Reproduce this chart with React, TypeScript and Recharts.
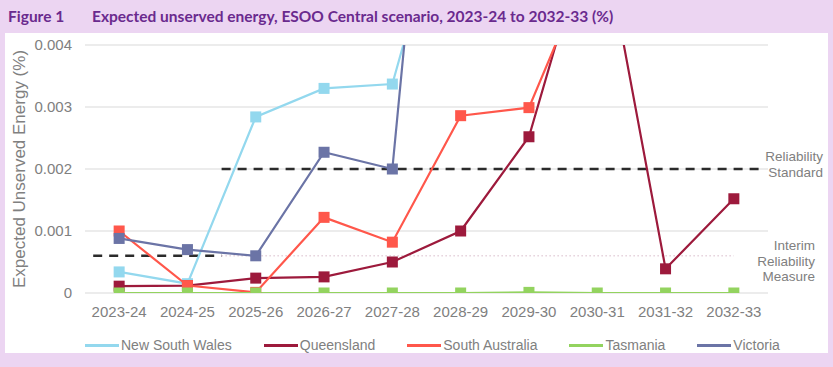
import {
  CartesianGrid,
  Legend,
  Line,
  LineChart,
  ReferenceLine,
  XAxis,
  YAxis,
} from "recharts";

const years = [
  "2023-24",
  "2024-25",
  "2025-26",
  "2026-27",
  "2027-28",
  "2028-29",
  "2029-30",
  "2030-31",
  "2031-32",
  "2032-33",
];

// values beyond 0.004 run off the top of the chart in the original
const newSouthWales = [0.00034, 0.00015, 0.00284, 0.0033, 0.00337, 0.0073, 0.0078, 0.0081, 0.0076, 0.0072];
const queensland = [0.00011, 0.00012, 0.00024, 0.00026, 0.0005, 0.001, 0.00252, 0.0063, 0.00039, 0.00152];
const southAustralia = [0.001, 0.00012, 0.00001, 0.00122, 0.00082, 0.00286, 0.00299, 0.0056, 0.0061, 0.0058];
const tasmania = [0, 0, 0, 0, 0, 0, 0.00001, 0, 0, 0];
const victoria = [0.00088, 0.0007, 0.0006, 0.00227, 0.002, 0.0135, 0.014, 0.0128, 0.0122, 0.0117];

const yTicks = [0, 0.001, 0.002, 0.003, 0.004];

const reliabilityStandard = 0.002;
const interimMeasure = 0.0006;

const series = [
  { key: "nsw", name: "New South Wales", color: "#93d8ee", values: newSouthWales },
  { key: "qld", name: "Queensland", color: "#9d1a3c", values: queensland },
  { key: "sa", name: "South Australia", color: "#ff574b", values: southAustralia },
  { key: "tas", name: "Tasmania", color: "#93d35f", values: tasmania },
  { key: "vic", name: "Victoria", color: "#6b74a6", values: victoria },
];

const data = years.map((year, i) => {
  const row: Record<string, number | string> = { x: i, year };
  series.forEach((s) => {
    row[s.key] = s.values[i];
  });
  return row;
});

const font = "'Liberation Sans', Arial, sans-serif";
const grey = "#808080";

const squareDot = (color: string, size: number) => (props: any) => {
  const { cx, cy, index } = props;
  if (cx == null || cy == null) return <g key={index} />;
  return (
    <rect
      key={index}
      x={cx - size / 2}
      y={cy - size / 2}
      width={size}
      height={size}
      fill={color}
    />
  );
};

const renderLegend = (props: any) => {
  const { payload } = props;
  return (
    <div
      style={{
        display: "flex",
        gap: 32,
        paddingLeft: 80,
        fontFamily: font,
        fontSize: 14,
        color: grey,
        lineHeight: "18px",
      }}
    >
      {payload.map((p: any) => (
        <span key={p.value} style={{ display: "flex", alignItems: "center" }}>
          <span
            style={{
              display: "inline-block",
              width: 34,
              height: 3,
              background: p.color,
              marginRight: 2,
            }}
          />
          {p.value}
        </span>
      ))}
    </div>
  );
};

export default function App() {
  return (
    <div
      style={{
        position: "relative",
        width: 833,
        height: 367,
        background: "#ecd5f2",
        overflow: "hidden",
      }}
    >
      <style>{"body{margin:0}"}</style>
      <div
        style={{
          position: "absolute",
          top: 7,
          left: 8,
          fontFamily: "Lato, 'Open Sans', sans-serif",
          fontWeight: 700,
          fontSize: 15.5,
          color: "#6a2a8e",
          whiteSpace: "nowrap",
        }}
      >
        <span style={{ display: "inline-block", width: 84 }}>Figure 1</span>
        Expected unserved energy, ESOO Central scenario, 2023-24 to 2032-33 (%)
      </div>
      <div
        style={{
          position: "absolute",
          left: 5,
          top: 33,
          width: 823,
          height: 320,
          background: "#ffffff",
        }}
      >
        <LineChart
          width={823}
          height={320}
          data={data}
          margin={{ top: 12, right: 60, left: 0, bottom: 12 }}
        >
          <CartesianGrid vertical={false} stroke="#d9d9d9" />
          <XAxis
            dataKey="x"
            type="number"
            domain={[-0.5, 9.5]}
            ticks={years.map((_, i) => i)}
            tickFormatter={(v: number) => years[v]}
            axisLine={false}
            tickLine={false}
            tickMargin={7}
            tick={{ fill: grey, fontSize: 15, fontFamily: font }}
            interval={0}
          />
          <YAxis
            width={80}
            domain={[0, 0.004]}
            ticks={yTicks}
            allowDataOverflow
            axisLine={false}
            tickLine={false}
            tickMargin={7}
            tickFormatter={(v: number) => (v === 0 ? "0" : v.toFixed(3))}
            tick={{ fill: grey, fontSize: 15, fontFamily: font }}
            label={{
              value: "Expected Unserved Energy (%)",
              angle: -90,
              position: "insideLeft",
              offset: 14,
              style: { textAnchor: "middle", fill: grey, fontSize: 17, fontFamily: font },
            }}
          />
          <ReferenceLine
            segment={[
              { x: 1.5, y: reliabilityStandard },
              { x: 9.4, y: reliabilityStandard },
            ]}
            stroke="#2b2b2b"
            strokeWidth={2.5}
            strokeDasharray="9 7"
          />
          <ReferenceLine
            segment={[
              { x: -0.38, y: interimMeasure },
              { x: 1.5, y: interimMeasure },
            ]}
            stroke="#2b2b2b"
            strokeWidth={2.5}
            strokeDasharray="9 7"
          />
          <ReferenceLine
            segment={[
              { x: 1.5, y: interimMeasure },
              { x: 9, y: interimMeasure },
            ]}
            stroke="#d7b9c8"
            strokeWidth={1.5}
            strokeDasharray="1 3"
          />
          {series.map((s) => (
            <Line
              key={s.key}
              dataKey={s.key}
              name={s.name}
              stroke={s.color}
              strokeWidth={2.2}
              dot={squareDot(s.color, 11)}
              activeDot={false}
              isAnimationActive={false}
            />
          ))}
          <Legend
            content={renderLegend}
            verticalAlign="bottom"
            wrapperStyle={{ left: 0, width: 823, bottom: -1 }}
          />
        </LineChart>
        <div
          style={{
            position: "absolute",
            right: 5,
            top: 116,
            textAlign: "right",
            fontFamily: font,
            fontSize: 13.5,
            lineHeight: "16px",
            color: grey,
          }}
        >
          Reliability
          <br />
          Standard
        </div>
        <div
          style={{
            position: "absolute",
            right: 13,
            top: 205,
            textAlign: "right",
            fontFamily: font,
            fontSize: 13.5,
            lineHeight: "15.5px",
            color: grey,
          }}
        >
          Interim
          <br />
          Reliability
          <br />
          Measure
        </div>
      </div>
    </div>
  );
}
